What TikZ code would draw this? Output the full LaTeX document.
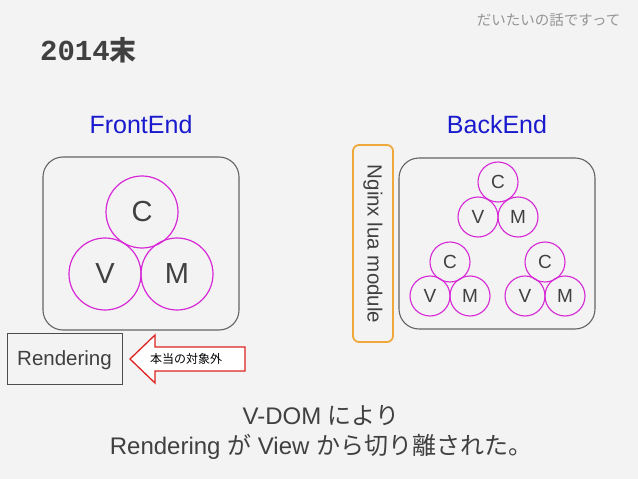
\documentclass[tikz,border=0pt]{standalone}
\usepackage{fontspec}
\setmainfont{Liberation Sans}
\newfontfamily\jp{Noto Sans CJK JP}
\newfontfamily\monob{Liberation Mono}
\usetikzlibrary{shapes.geometric}
\definecolor{bg}{RGB}{243,243,243}
\definecolor{txt}{RGB}{64,64,64}
\definecolor{mag}{RGB}{214,40,214}
\definecolor{blu}{RGB}{25,25,205}
\definecolor{boxc}{RGB}{100,100,100}
\definecolor{org}{RGB}{240,168,60}
\definecolor{redc}{RGB}{222,35,35}
\tikzset{
  circbig/.style={circle, draw=mag, line width=1.2pt, minimum size=72pt, inner sep=0pt, text=txt, font=\fontsize{29}{30}\selectfont},
  circsm/.style={circle, draw=mag, line width=1.1pt, minimum size=40pt, inner sep=0pt, text=txt, font=\fontsize{19}{20}\selectfont},
  bigbox/.style={draw=boxc, line width=1.1pt, rounded corners=20pt},
  title/.style={text=blu, font=\fontsize{25}{26}\selectfont},
  caption/.style={text=txt, font=\fontsize{24}{30}\selectfont, align=center}
}
\begin{document}
\begin{tikzpicture}[x=1pt,y=-1pt]
\fill[bg] (0,0) rectangle (638,479);
\useasboundingbox (0,0) rectangle (638,479);

\node[anchor=east, text=black!42, font=\jp\fontsize{14.5}{15}\selectfont] (note) at (624,20) {だいたいの話ですって};
\node[anchor=west, text=txt, inner sep=0pt] (year) at (40,50) {\monob\bfseries\fontsize{29}{30}\selectfont 2014\jp\fontsize{27}{30}\selectfont 末};

\node[title] (fe) at (141,125) {FrontEnd};
\node[title] (be) at (497,125) {BackEnd};

% Frontend box
\draw[bigbox] (43,157) rectangle (239,330);
\node[circbig] (fc) at (142,212) {C};
\node[circbig] (fv) at (105,274) {V};
\node[circbig] (fm) at (177,274) {M};

% Nginx
\draw[org, line width=1.8pt, rounded corners=6pt] (353,145) rectangle (393,342);
\node[rotate=-90, text=txt, font=\fontsize{20.5}{21}\selectfont] (ngx) at (373,244) {Nginx lua module};

% Backend box
\draw[bigbox] (399,158) rectangle (595,329);
\node[circsm] (c1) at (498,182) {C};
\node[circsm] (v1) at (478,217) {V};
\node[circsm] (m1) at (518,217) {M};
\node[circsm] (c2) at (450,262) {C};
\node[circsm] (v2) at (430,296) {V};
\node[circsm] (m2) at (470,296) {M};
\node[circsm] (c3) at (545,262) {C};
\node[circsm] (v3) at (525,296) {V};
\node[circsm] (m3) at (565,296) {M};

% Rendering
\node[draw=black!70, line width=0.9pt, minimum width=115pt, minimum height=51pt, inner sep=0pt, text depth=0pt, text=txt, font=\fontsize{20.5}{21}\selectfont] (rend) at (64.5,358.5) {Rendering};

% Arrow
\filldraw[draw=redc, fill=white, line width=1.3pt, line join=miter]
  (130,359) -- (155,335) -- (155,347) -- (245,347) -- (245,371) -- (155,371) -- (155,383) -- cycle;
\node[text=black, font=\jp\fontsize{12}{13}\selectfont] (nt) at (186,359) {本当の対象外};

% Caption
\node[caption] (cap) at (321,432) {V-DOM {\jp により}\\Rendering {\jp が} View {\jp から切り離された。}};
\end{tikzpicture}
\end{document}
